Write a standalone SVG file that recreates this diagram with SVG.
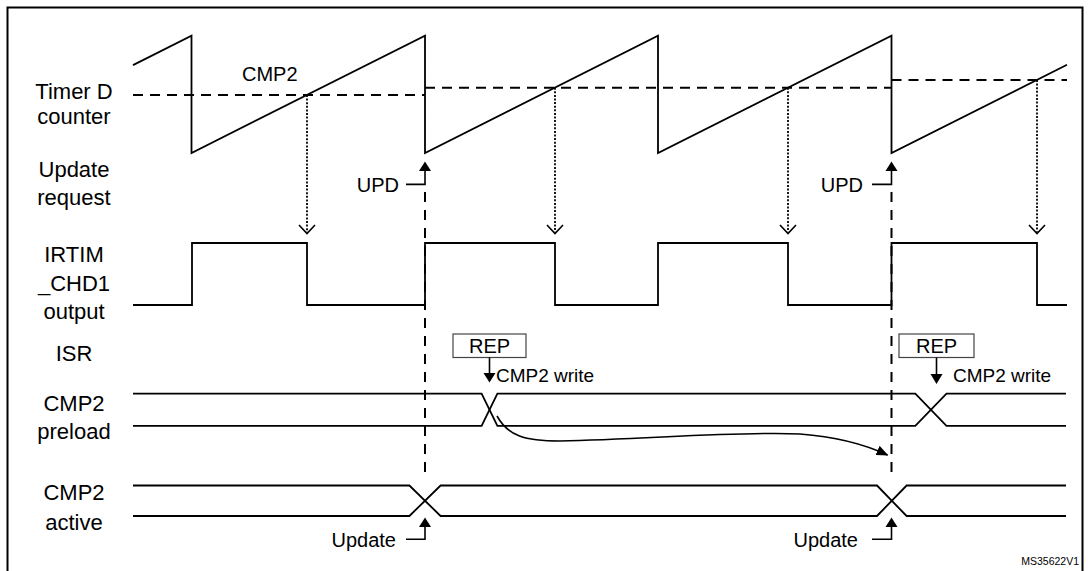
<svg xmlns="http://www.w3.org/2000/svg" width="1088" height="571" viewBox="0 0 1088 571">
<style>
.lbl{font-family:"Liberation Sans",Arial,sans-serif;font-size:22px;fill:#000;text-anchor:middle}
.t{font-family:"Liberation Sans",Arial,sans-serif;font-size:20px;fill:#000}
.sig{fill:none;stroke:#000;stroke-width:1.8;stroke-linejoin:miter}
.dash{fill:none;stroke:#000;stroke-width:2;stroke-dasharray:10 7}
.vdash{fill:none;stroke:#000;stroke-width:2;stroke-dasharray:10 8}
.dot{fill:none;stroke:#000;stroke-width:1.8;stroke-dasharray:2 1.6}
.thin{fill:none;stroke:#000;stroke-width:1.6}
.head{fill:#000;stroke:none}
.vopen{fill:none;stroke:#000;stroke-width:1.6}
</style>
<defs>
<marker id="ah" viewBox="0 0 12 10" refX="11" refY="5" markerWidth="12" markerHeight="10" markerUnits="userSpaceOnUse" orient="auto">
<path d="M0,0 L12,5 L0,10 z" fill="#000"/>
</marker>
</defs>
<rect x="7.5" y="7.5" width="1075" height="590" fill="none" stroke="#000" stroke-width="2"/>

<g id="labels">
<text class="lbl" x="74" y="99">Timer D</text>
<text class="lbl" x="74" y="124">counter</text>
<text class="lbl" x="74" y="177">Update</text>
<text class="lbl" x="74" y="205">request</text>
<text class="lbl" x="74" y="262">IRTIM</text>
<text class="lbl" x="74" y="291">_CHD1</text>
<text class="lbl" x="74" y="319">output</text>
<text class="lbl" x="74" y="361">ISR</text>
<text class="lbl" x="74" y="411">CMP2</text>
<text class="lbl" x="74" y="439">preload</text>
<text class="lbl" x="74" y="500">CMP2</text>
<text class="lbl" x="74" y="530">active</text>
</g>

<g id="counter">
<path class="sig" d="M133,65.1 L191.5,35.7 L191.5,153 L425,35.7 L425,153 L658,35.7 L658,153 L891.5,35.7 L891.5,153 L1067,64.8"/>
<path class="dash" d="M133,95 H425 M425,87.7 H891.5 M891.5,80 H1067"/>
<text class="t" x="242" y="81">CMP2</text>
</g>

<g id="irtim">
<path class="sig" d="M133,305 H192 V243 H307 V305 H425 V243 H555 V305 H658 V243 H788 V305 H891.5 V243 H1037 V305 H1067"/>
</g>

<g id="preload">
<path class="sig" d="M133,393.6 H481.6 L497.4,425.8 H915.3 L946.5,393.6 H1066"/>
<path class="sig" d="M133,425.8 H481.6 L497.4,393.6 H915.3 L946.5,425.8 H1066"/>
</g>

<g id="active">
<path class="sig" d="M133,485.5 H409.4 L440.6,516 H877 L906.6,485.5 H1066"/>
<path class="sig" d="M133,516 H409.4 L440.6,485.5 H877 L906.6,516 H1066"/>
</g>

<g id="rep1">
<rect x="453" y="334" width="73" height="23.5" fill="#fff" stroke="#444" stroke-width="1.2"/>
<text class="t" x="489.5" y="353" text-anchor="middle">REP</text>
</g>
<g id="rep2">
<rect x="899" y="334" width="75" height="23.5" fill="#fff" stroke="#444" stroke-width="1.2"/>
<text class="t" x="936.5" y="353" text-anchor="middle">REP</text>
</g>

<g id="connectors">
<path class="dot" d="M307,95 V232"/>
<path class="vopen" d="M299,225 L307,233.5 L315,225"/>
<path class="dot" d="M555,87.7 V232"/>
<path class="vopen" d="M547,225 L555,233.5 L563,225"/>
<path class="dot" d="M788,87.7 V232"/>
<path class="vopen" d="M780,225 L788,233.5 L796,225"/>
<path class="dot" d="M1037,80 V232"/>
<path class="vopen" d="M1029,225 L1037,233.5 L1045,225"/>

<path class="vdash" d="M425,192 V480"/>
<path class="vdash" d="M891.5,192 V480"/>

<path class="thin" d="M406,184.4 H425 V170"/>
<path class="head" d="M419,171 L425,161.5 L431,171 z"/>
<path class="thin" d="M872,184.4 H891.5 V170"/>
<path class="head" d="M885.5,171 L891.5,161.5 L897.5,171 z"/>

<path class="thin" d="M489.5,357.5 V374"/>
<path class="head" d="M483.5,373 L489.5,382.5 L495.5,373 z"/>
<path class="thin" d="M936.5,357.5 V375"/>
<path class="head" d="M930.5,374 L936.5,384 L942.5,374 z"/>

<path class="thin" d="M406,539.3 H425 V526"/>
<path class="head" d="M419,527 L425,517.5 L431,527 z"/>
<path class="thin" d="M872,539.3 H891.5 V526"/>
<path class="head" d="M885.5,527 L891.5,517.5 L897.5,527 z"/>

<path class="thin" d="M497,416 C508,436 525,441 560,441 C650,439 740,431 800,434 C840,437 866,445 887.5,455" marker-end="url(#ah)"/>
</g>

<g id="texts">
<text class="t" x="399" y="192" text-anchor="end">UPD</text>
<text class="t" x="863" y="192" text-anchor="end">UPD</text>
<text class="t" x="496" y="382" style="font-size:19px">CMP2 write</text>
<text class="t" x="953" y="382" style="font-size:19px">CMP2 write</text>
<text class="t" x="396" y="547" text-anchor="end">Update</text>
<text class="t" x="858" y="547" text-anchor="end">Update</text>
<text class="t" x="1079" y="565" text-anchor="end" style="font-size:10.5px">MS35622V1</text>
</g>
</svg>
